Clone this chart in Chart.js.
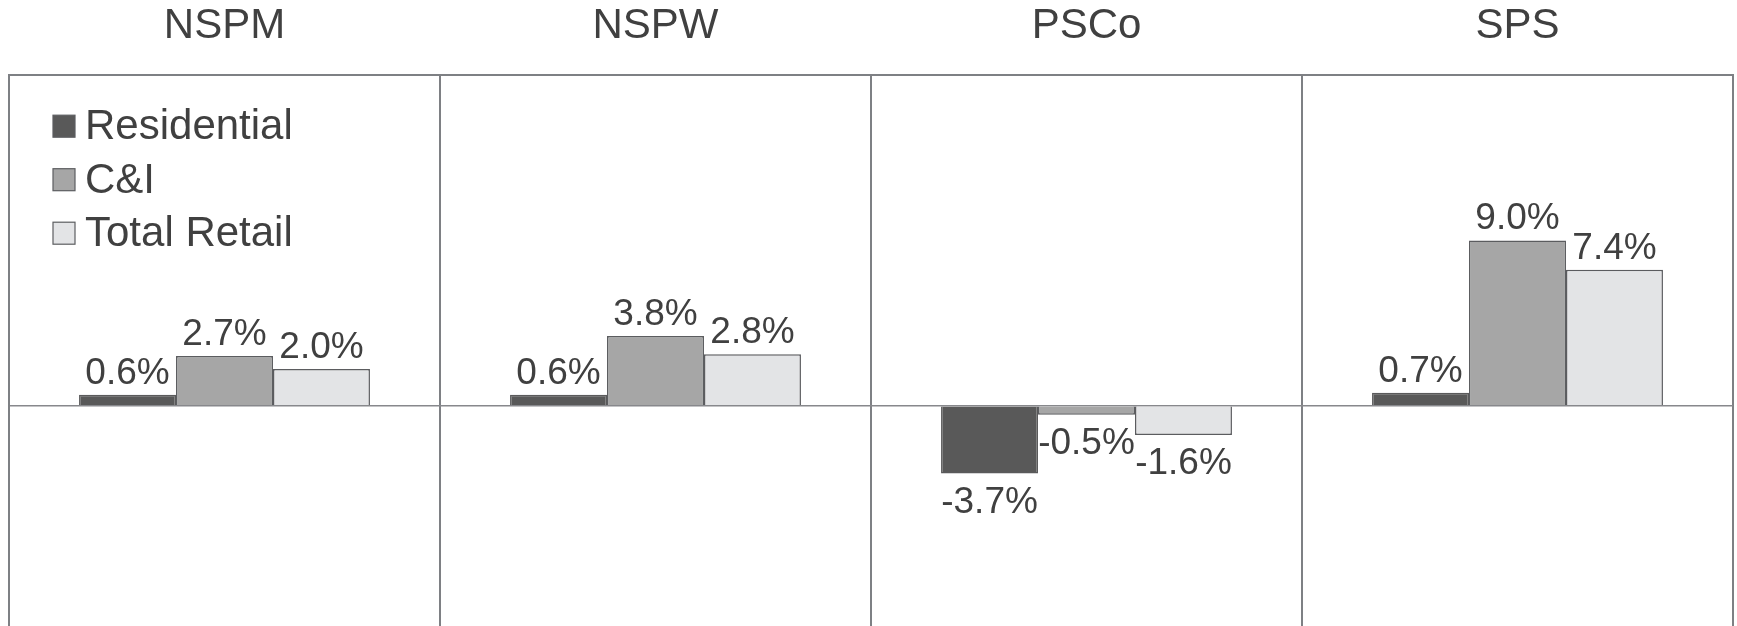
<!DOCTYPE html>
<html>
<head>
<meta charset="utf-8">
<title>Variação de vendas por região</title>
<script src="https://cdn.jsdelivr.net/npm/chart.js@4/dist/chart.umd.min.js"></script>
<style>
    html, body { margin: 0; padding: 0; background: #ffffff; }
    .grafico { width: 1737px; height: 626px; position: relative; }
</style>
</head>
<body>
<div class="grafico"><canvas id="vendasChart"></canvas></div>
<script>
// Dados do gráfico
const regioes = ['NSPM', 'NSPW', 'PSCo', 'SPS'];
const nomesSeries = ['Residential', 'C&I', 'Total Retail'];
const residencial = [0.6, 0.6, -3.7, 0.7];
const comercialIndustrial = [2.7, 3.8, -0.5, 9.0];
const totalVarejo = [2.0, 2.8, -1.6, 7.4];
const eixoMin = -12;
const eixoMax = 18;

const FONTE = 'Arial, "Liberation Sans", sans-serif';
const COR_TEXTO = '#404040';
const COR_GRADE = '#7e8084';

document.addEventListener('DOMContentLoaded', function() {
    const ctx = document.getElementById('vendasChart').getContext('2d');

    // Rótulos de valor acima / abaixo das barras
    const rotulosPlugin = {
        id: 'rotulos',
        afterDatasetsDraw(chart) {
            const c = chart.ctx;
            c.save();
            c.font = '37px ' + FONTE;
            c.fillStyle = COR_TEXTO;
            c.textAlign = 'center';
            c.textBaseline = 'alphabetic';
            chart.data.datasets.forEach((ds, i) => {
                chart.getDatasetMeta(i).data.forEach((barra, j) => {
                    const v = ds.data[j];
                    const texto = v.toFixed(1) + '%';
                    const y = v >= 0 ? barra.y - 11 : barra.y + 39;
                    c.fillText(texto, barra.x, y);
                });
            });
            c.restore();
        }
    };

    // Legenda no canto superior esquerdo
    const legendaPlugin = {
        id: 'legendaManual',
        afterDraw(chart) {
            const c = chart.ctx;
            const area = chart.chartArea;
            c.save();
            c.font = '42px ' + FONTE;
            c.textBaseline = 'alphabetic';
            c.textAlign = 'left';
            chart.data.datasets.forEach((ds, i) => {
                const topo = area.top + 40 + i * 53.5;
                c.fillStyle = ds.backgroundColor;
                c.fillRect(area.left + 44, topo, 22, 22);
                c.strokeStyle = '#5d5e61';
                c.lineWidth = 1.2;
                c.strokeRect(area.left + 44, topo, 22, 22);
                c.fillStyle = COR_TEXTO;
                c.fillText(ds.label, area.left + 76, topo + 24);
            });
            c.restore();
        }
    };

    new Chart(ctx, {
        type: 'bar',
        data: {
            labels: regioes,
            datasets: [
                {
                    label: nomesSeries[0],
                    data: residencial,
                    backgroundColor: '#595959',
                    borderColor: '#5a5a5b',
                    borderWidth: 1.5
                },
                {
                    label: nomesSeries[1],
                    data: comercialIndustrial,
                    backgroundColor: '#a6a6a6',
                    borderColor: '#5b5c5f',
                    borderWidth: 1.5
                },
                {
                    label: nomesSeries[2],
                    data: totalVarejo,
                    backgroundColor: '#e3e4e6',
                    borderColor: '#5b5c5f',
                    borderWidth: 1.5
                }
            ]
        },
        options: {
            responsive: true,
            maintainAspectRatio: false,
            animation: false,
            layout: {
                padding: { left: 9, right: 4, top: 3, bottom: 0 }
            },
            datasets: {
                bar: {
                    categoryPercentage: 0.675,
                    barPercentage: 1.0
                }
            },
            plugins: {
                legend: { display: false },
                tooltip: { enabled: false }
            },
            scales: {
                x: {
                    position: 'top',
                    grid: {
                        offset: true,
                        drawTicks: true,
                        tickLength: 26,
                        tickColor: 'rgba(0,0,0,0)',
                        color: COR_GRADE,
                        lineWidth: 2
                    },
                    border: { display: true, color: COR_GRADE, width: 2 },
                    ticks: {
                        color: COR_TEXTO,
                        padding: 0,
                        font: { family: FONTE, size: 42, lineHeight: 1.1 }
                    }
                },
                y: {
                    min: eixoMin,
                    max: eixoMax,
                    grid: {
                        drawTicks: false,
                        color: (c) => c.tick && c.tick.value === 0 ? '#87888c' : 'rgba(0,0,0,0)',
                        lineWidth: 1.5
                    },
                    border: { display: true, color: COR_GRADE, width: 2 },
                    ticks: { display: false, stepSize: 1 }
                }
            }
        },
        plugins: [rotulosPlugin, legendaPlugin]
    });
});
</script>
</body>
</html>
